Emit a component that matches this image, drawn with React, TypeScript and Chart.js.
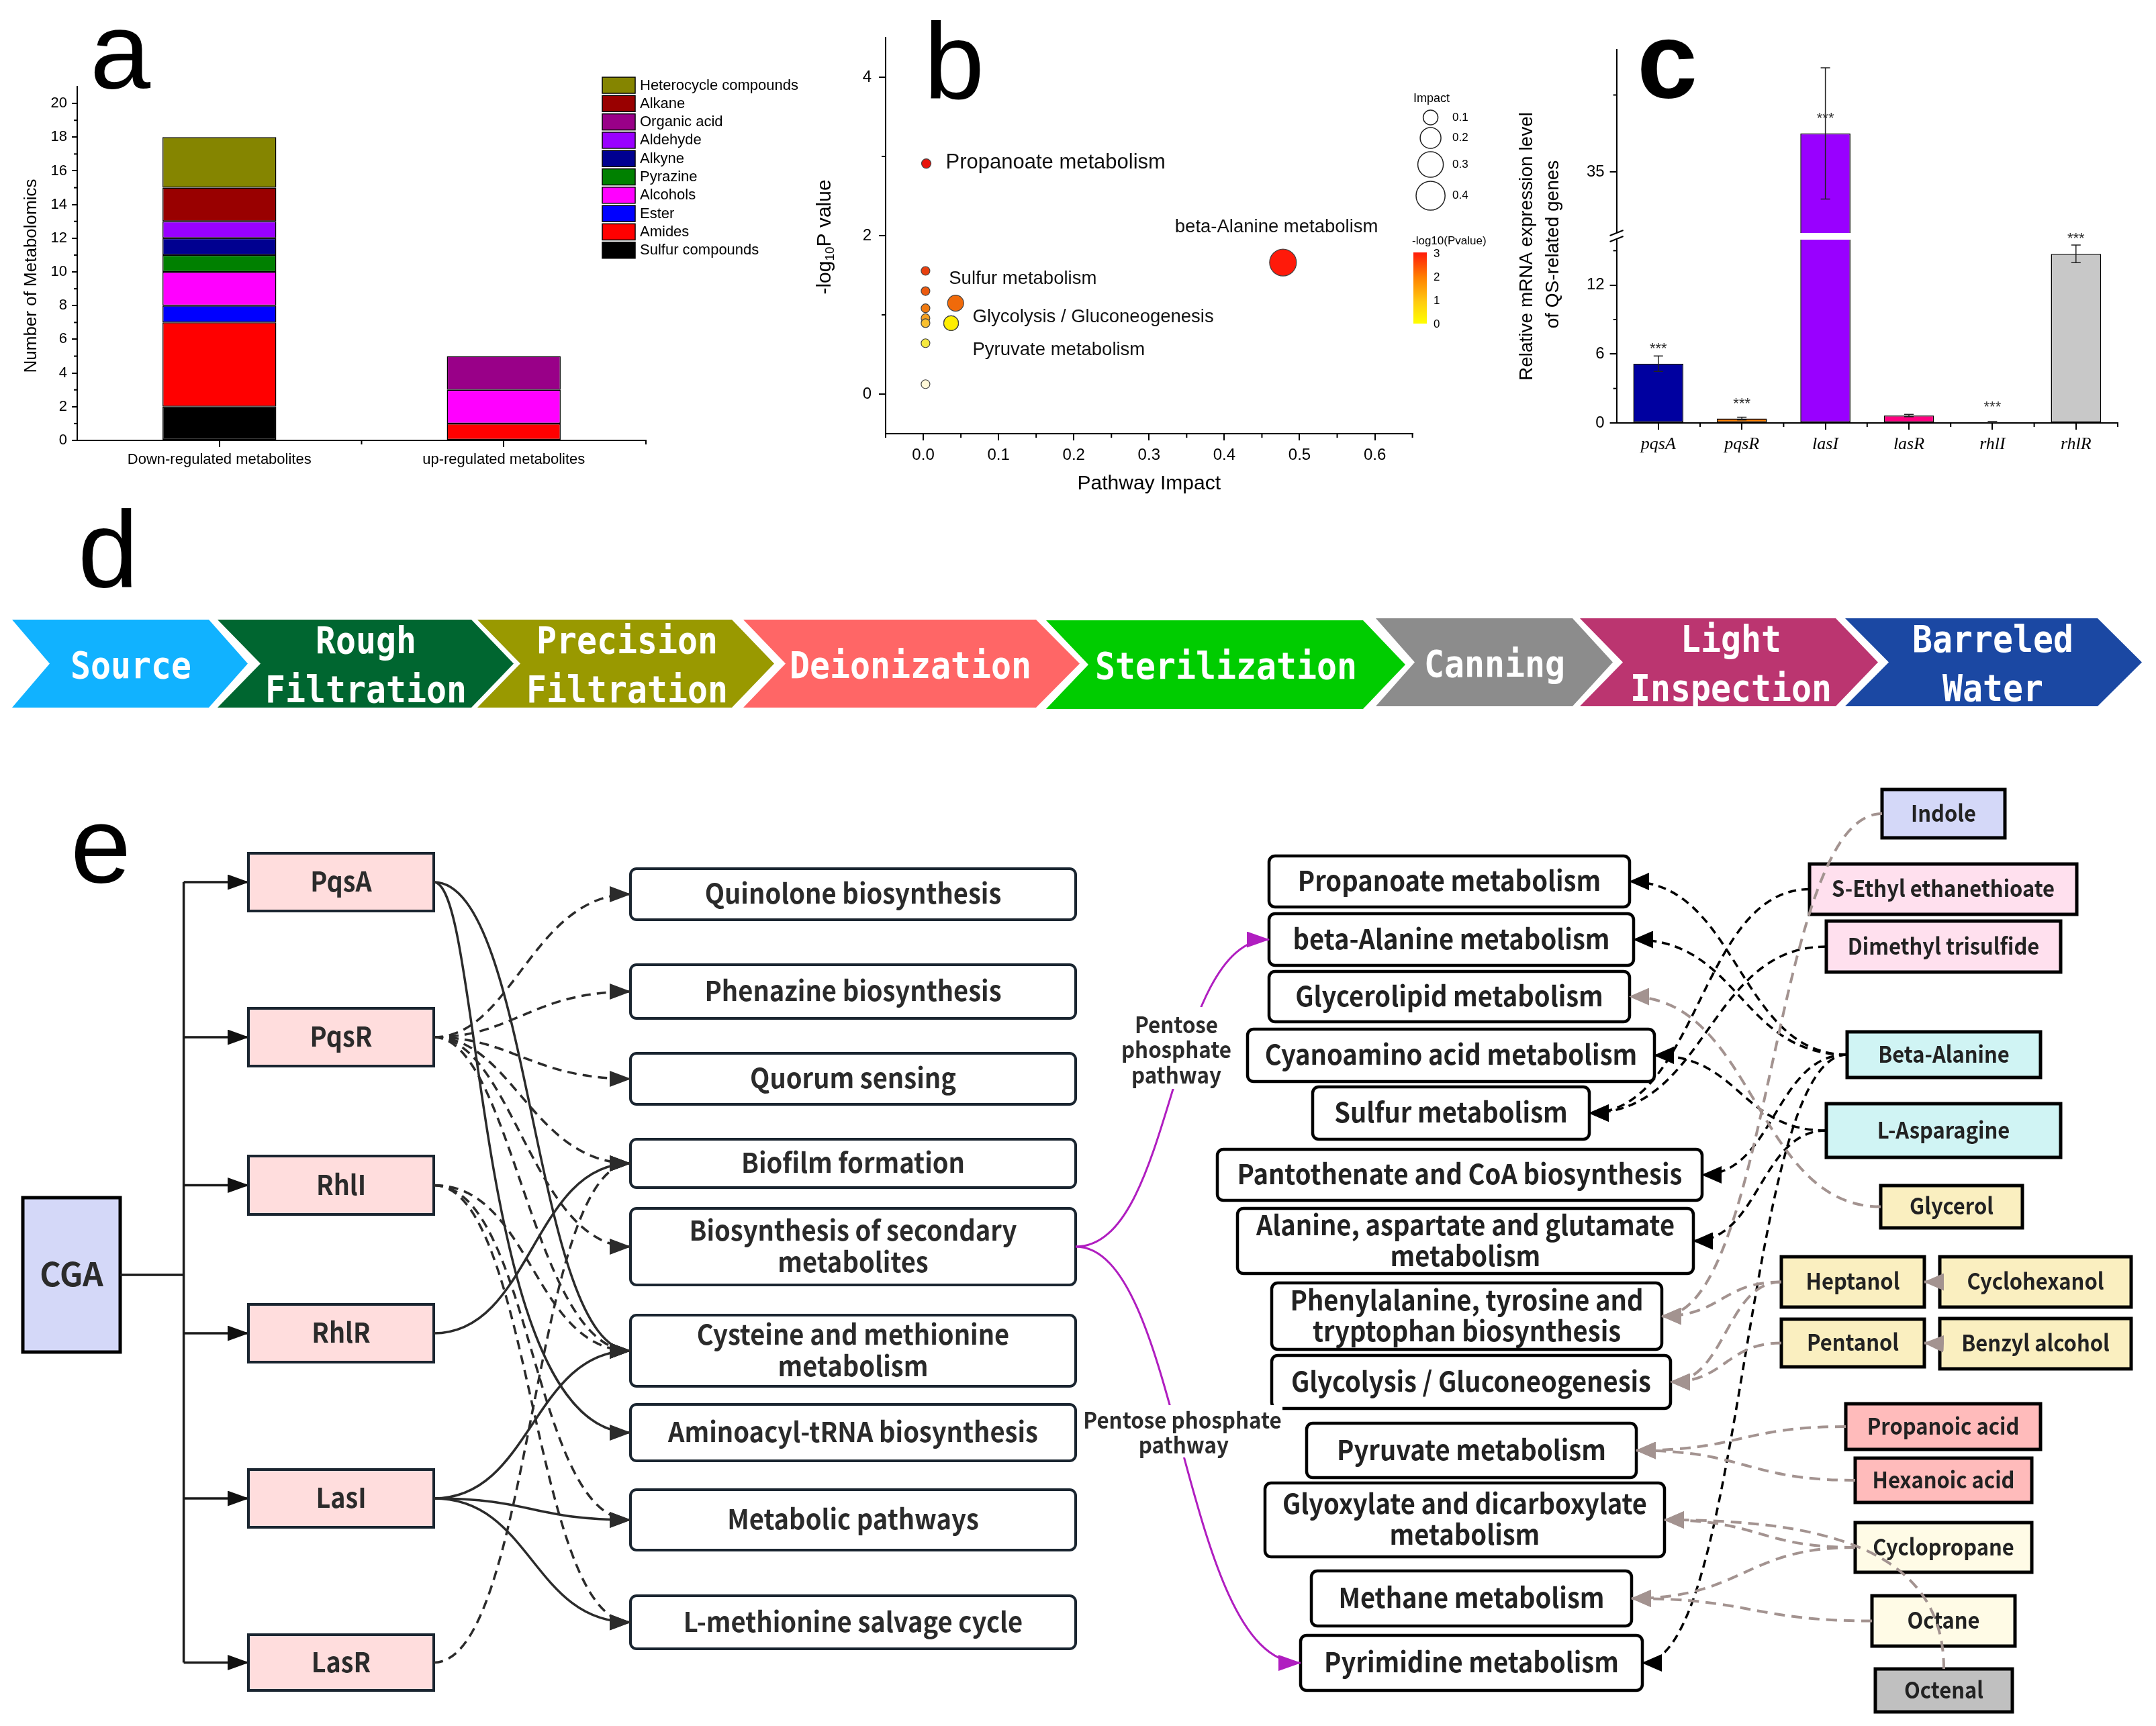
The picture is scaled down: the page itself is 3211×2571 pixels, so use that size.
import React, { useEffect, useRef } from 'react';
import { Chart, registerables } from 'chart.js';

Chart.register(...registerables);

const SANS = '"Liberation Sans", Arial, Helvetica, sans-serif';
const SERIF = '"Liberation Serif", "Times New Roman", serif';
const CJK = '"Noto Sans CJK SC", "Noto Sans", sans-serif';
const MONO = '"DejaVu Sans Mono", "Liberation Mono", monospace';

Chart.defaults.font.family = SANS;
Chart.defaults.color = '#000';

/* ---------------- panel a : stacked bars ---------------- */
const A_GROUPS = ['Down-regulated metabolites', 'up-regulated metabolites'];
const A_CLASSES = ['Sulfur compounds', 'Amides', 'Ester', 'Alcohols', 'Pyrazine', 'Alkyne', 'Aldehyde', 'Organic acid', 'Alkane', 'Heterocycle compounds'];
const A_DOWN = [2, 5, 1, 2, 1, 1, 1, 0, 2, 3];
const A_UP = [0, 1, 0, 2, 0, 0, 0, 2, 0, 0];
const A_COLORS = ['#000000', '#ff0000', '#0000ff', '#ff00ff', '#008000', '#000090', '#9900ff', '#990088', '#990000', '#858500'];
const A_Y_MAJOR = [0, 2, 4, 6, 8, 10, 12, 14, 16, 18, 20];
const A_Y_MINOR = [1, 3, 5, 7, 9, 11, 13, 15, 17, 19];
const A_X_BOUNDS = [0.5, 1.5];

/* ---------------- panel b : pathway bubbles ---------------- */
const B_PATHWAYS = ['Propanoate metabolism', 'beta-Alanine metabolism', 'Sulfur metabolism', 'Glycolysis / Gluconeogenesis', 'Pyruvate metabolism', '', '', '', '', '', '', ''];
const B_IMPACT = [0.004, 0.478, 0.043, 0.037, 0.037, 0.003, 0.003, 0.003, 0.003, 0.003, 0.003, 0.003];
const B_LOGP = [2.91, 1.66, 1.148, 0.895, 0.895, 1.555, 1.3, 1.083, 0.958, 0.895, 0.642, 0.125];
const B_RADIUS = [7, 20, 12, 11, 11, 6.5, 6.5, 6.5, 6.5, 6.5, 6.5, 6.5];
const B_COLORS = ['#e8140c', '#ff1a0a', '#f06a0a', '#ffee00', '#ffee00', '#e8400f', '#ec5a10', '#f07a10', '#f5a020', '#f8c030', '#f5e840', '#fff8d8'];
const B_LABEL_DX = [29, -161, -10, 32, 32, 0, 0, 0, 0, 0, 0, 0];
const B_LABEL_DY = [-1, -53, -36, -9, 40, 0, 0, 0, 0, 0, 0, 0];
const B_LABEL_SIZE = [31, 27.5, 27.5, 27.5, 27.5, 0, 0, 0, 0, 0, 0, 0];
const B_X_MAJOR = [0, 0.1, 0.2, 0.3, 0.4, 0.5, 0.6];
const B_X_MINOR = [-0.05, 0.05, 0.15, 0.25, 0.35, 0.45, 0.55, 0.65];
const B_Y_MAJOR = [0, 2, 4];
const B_Y_MINOR = [1, 3];
const B_SIZE_LEGEND = ['0.1', '0.2', '0.3', '0.4'];
const B_SIZE_LEGEND_R = [11, 15.5, 19, 21.6];
const B_COLORBAR_TICKS = ['3', '2', '1', '0'];

/* ---------------- panel c : qPCR bars with broken axis ---------------- */
const C_GENES = ['pqsA', 'pqsR', 'lasI', 'lasR', 'rhlI', 'rhlR'];
const C_EXPR = [5.16, 0.38, 37.5, 0.64, 0.08, 14.72];
const C_ERR = [0.67, 0.12, 4.27, 0.1, 0.03, 0.77];
const C_SIG = ['***', '***', '***', '', '***', '***'];
const C_COLORS = ['#0000a0', '#ff8000', '#9900ff', '#ff0080', '#c8c8c8', '#c8c8c8'];
const C_LOW_MAX = 16.25;
const C_HIGH_MIN = 30.8;
const C_HIGH_MAX = 42.95;
const C_LOW_MAJOR = [0, 6, 12];
const C_LOW_MINOR = [3, 9, 15];
const C_HIGH_MAJOR = [35];
const C_HIGH_MINOR = [40];
const C_X_BOUNDS = [0.5, 1.5, 2.5, 3.5, 4.5, 5.5];

/* ---------------- panel d : process chevrons ---------------- */
const D_STEPS = [['Source'], ['Rough', 'Filtration'], ['Precision', 'Filtration'], ['Deionization'], ['Sterilization'], ['Canning'], ['Light', 'Inspection'], ['Barreled', 'Water']];
const D_COLORS = ['#11b2ff', '#006630', '#999900', '#ff6666', '#00cc00', '#8c8c8c', '#bb3570', '#1b48a3'];
// geometry: left, notch, rightTop, tip, top, bottom, text centre x
const D_GEOM = [
  [18, 74, 311, 369, 923, 1054, 195],
  [324, 388, 702, 765, 923, 1054, 545],
  [711, 775, 1090, 1153, 923, 1054, 934],
  [1107, 1170, 1543, 1608, 923, 1054, 1356],
  [1558, 1621, 2030, 2093, 924, 1056, 1826],
  [2049, 2107, 2342, 2402, 921, 1052, 2226],
  [2353, 2417, 2734, 2797, 921, 1052, 2578],
  [2748, 2813, 3124, 3190, 921, 1052, 2968],
];

/* ---------------- panel e : network ---------------- */
const E_GENES = ['PqsA', 'PqsR', 'RhlI', 'RhlR', 'LasI', 'LasR'];
const E_GENE_BOX = [[370, 1271, 276, 86], [370, 1502, 276, 86], [370, 1722, 276, 87], [370, 1943, 276, 86], [370, 2189, 276, 86], [370, 2435, 276, 83]];
const E_MID = ['Quinolone biosynthesis', 'Phenazine biosynthesis', 'Quorum sensing', 'Biofilm formation', 'Biosynthesis of secondary|metabolites', 'Cysteine and methionine|metabolism', 'Aminoacyl-tRNA biosynthesis', 'Metabolic pathways', 'L-methionine salvage cycle'];
const E_MID_BOX = [[939, 1294, 663, 76], [939, 1437, 663, 80], [939, 1569, 663, 76], [939, 1697, 663, 72], [939, 1800, 663, 114], [939, 1959, 663, 106], [939, 2092, 663, 84], [939, 2219, 663, 90], [939, 2377, 663, 79]];
const E_PATH = ['Propanoate metabolism', 'beta-Alanine metabolism', 'Glycerolipid metabolism', 'Cyanoamino acid metabolism', 'Sulfur metabolism', 'Pantothenate and CoA biosynthesis', 'Alanine, aspartate and glutamate|metabolism', 'Phenylalanine, tyrosine and|tryptophan biosynthesis', 'Glycolysis / Gluconeogenesis', 'Pyruvate metabolism', 'Glyoxylate and dicarboxylate|metabolism', 'Methane metabolism', 'Pyrimidine metabolism'];
const E_PATH_BOX = [[1890, 1275, 537, 76], [1890, 1361, 543, 77], [1890, 1447, 537, 75], [1858, 1533, 606, 78], [1955, 1619, 412, 78], [1813, 1712, 722, 76], [1843, 1800, 679, 97], [1894, 1911, 581, 99], [1894, 2019, 594, 79], [1946, 2120, 491, 81], [1884, 2209, 595, 110], [1953, 2340, 477, 82], [1937, 2436, 509, 82]];
const E_CPD = ['Indole', 'S-Ethyl ethanethioate', 'Dimethyl trisulfide', 'Beta-Alanine', 'L-Asparagine', 'Glycerol', 'Heptanol', 'Cyclohexanol', 'Pentanol', 'Benzyl alcohol', 'Propanoic acid', 'Hexanoic acid', 'Cyclopropane', 'Octane', 'Octenal'];
const E_CPD_BOX = [[2803, 1176, 183, 72], [2695, 1287, 398, 75], [2720, 1372, 349, 76], [2751, 1537, 288, 68], [2720, 1644, 349, 80], [2801, 1766, 211, 63], [2653, 1872, 213, 75], [2889, 1872, 285, 75], [2653, 1965, 213, 71], [2889, 1964, 285, 75], [2749, 2091, 290, 68], [2763, 2172, 263, 66], [2763, 2268, 263, 74], [2788, 2377, 213, 75], [2793, 2486, 204, 64]];
const E_CPD_FILL = ['#d4d8f8', '#ffe0ee', '#ffe0ee', '#d0f4f4', '#d0f4f4', '#faefc0', '#faefc0', '#faefc0', '#faefc0', '#faefc0', '#ffbbbb', '#ffbbbb', '#fffbe6', '#fffbe6', '#c0c0c0'];
// gene -> pathway links: [gene, mid, dashed, k1, k2]
const E_LEFT_LINKS = [
  [0, 5, 0, 0.5, 0.5], [0, 6, 0, 0.25, 0.8], [3, 3, 0, 0.5, 0.5], [4, 5, 0, 0.5, 0.5], [4, 7, 0, 0.5, 0.5], [4, 8, 0, 0.5, 0.5],
  [1, 0, 1, 0.4, 0.5], [1, 1, 1, 0.4, 0.5], [1, 2, 1, 0.4, 0.5], [1, 3, 1, 0.4, 0.5], [1, 4, 1, 0.4, 0.5], [1, 5, 1, 0.4, 0.5],
  [2, 5, 1, 0.5, 0.5], [2, 7, 1, 0.5, 0.5], [2, 8, 1, 0.5, 0.5], [5, 3, 1, 0.5, 0.5],
];
// compound -> pathway links: [compound, pathway, grey]
const E_RIGHT_LINKS = [
  [1, 4, 0], [2, 4, 0], [3, 0, 0], [3, 1, 0], [3, 5, 0], [3, 12, 0], [4, 3, 0], [4, 6, 0],
  [0, 7, 1], [5, 2, 1], [6, 7, 1], [6, 8, 1], [8, 8, 1], [10, 9, 1], [11, 9, 1], [12, 10, 1], [12, 11, 1], [13, 11, 1],
];
// compound -> compound links (arrow into the left neighbour)
const E_CPD_LINKS = [[7, 6], [9, 8]];

/* ---------------- helpers ---------------- */
function axisStyle(tickLen: number) {
  return {
    grid: { drawOnChartArea: false, drawTicks: true, tickLength: tickLen, color: '#000', lineWidth: 2, offset: false },
    border: { display: true, color: '#000', width: 2 },
  };
}

function minorTicks(id: string, specs: any[]) {
  return {
    id,
    afterDraw(chart: any) {
      const ctx = chart.ctx;
      ctx.save();
      ctx.strokeStyle = '#000';
      ctx.lineWidth = 2;
      for (const s of specs) {
        const sc = chart.scales[s.scale];
        for (const v of s.values) {
          const p = sc.getPixelForValue(v);
          ctx.beginPath();
          if (sc.isHorizontal()) {
            ctx.moveTo(p, sc.top);
            ctx.lineTo(p, sc.top + s.len);
          } else {
            ctx.moveTo(sc.right, p);
            ctx.lineTo(sc.right - s.len, p);
          }
          ctx.stroke();
        }
      }
      ctx.restore();
    },
  };
}

function txt(ctx: any, text: string, x: number, y: number, font: string, align = 'center', rot = 0, color = '#000') {
  ctx.save();
  ctx.translate(x, y);
  if (rot) ctx.rotate(rot);
  ctx.font = font;
  ctx.fillStyle = color;
  ctx.textAlign = align;
  ctx.textBaseline = 'middle';
  ctx.fillText(text, 0, 0);
  ctx.restore();
}

/* ---------------- chart configs ---------------- */
function makeA(): any {
  const decor = {
    id: 'aDecor',
    afterDraw(chart: any) {
      const ctx = chart.ctx;
      const order = A_CLASSES.map((_, i) => i).reverse();
      order.forEach((ci, row) => {
        const y0 = 115 + row * 27.3;
        ctx.fillStyle = A_COLORS[ci];
        ctx.fillRect(897, y0, 49, 24);
        ctx.strokeStyle = '#000';
        ctx.lineWidth = 1.5;
        ctx.strokeRect(897, y0, 49, 24);
        txt(ctx, A_CLASSES[ci], 953, y0 + 12.5, `22px ${SANS}`, 'left');
      });
      txt(ctx, 'Number of Metabolomics', 47, 411, `26px ${SANS}`, 'center', -Math.PI / 2);
    },
  };
  return {
    type: 'bar',
    data: {
      labels: A_GROUPS,
      datasets: A_CLASSES.map((c, i) => ({
        label: c,
        data: [A_DOWN[i], A_UP[i]],
        backgroundColor: A_COLORS[i],
        borderColor: '#000',
        borderWidth: 1.5,
        borderSkipped: false,
        barPercentage: 0.4,
        categoryPercentage: 1,
      })),
    },
    options: {
      responsive: false,
      animation: false,
      devicePixelRatio: 1,
      layout: { padding: { left: 0, top: 129, right: 233, bottom: 0 } },
      plugins: { legend: { display: false }, tooltip: { enabled: false } },
      scales: {
        x: {
          stacked: true,
          ...axisStyle(10),
          ticks: { font: { family: SANS, size: 22 }, color: '#000', padding: 6, maxRotation: 0, autoSkip: false },
          afterFit: (s: any) => { s.height = 64; },
        },
        y: {
          stacked: true,
          min: 0,
          max: 21,
          ...axisStyle(8),
          ticks: { font: { family: SANS, size: 22 }, color: '#000', padding: 7 },
          afterBuildTicks: (s: any) => { s.ticks = A_Y_MAJOR.map((v) => ({ value: v })); },
          afterFit: (s: any) => { s.width = 115; },
        },
      },
    },
    plugins: [
      minorTicks('aMinor', [
        { scale: 'y', values: A_Y_MINOR, len: 5 },
        { scale: 'x', values: A_X_BOUNDS, len: 6 },
      ]),
      decor,
    ],
  };
}

function makeB(): any {
  const decor = {
    id: 'bDecor',
    afterDraw(chart: any) {
      const ctx = chart.ctx;
      const xs = chart.scales.x;
      const ys = chart.scales.y;
      B_PATHWAYS.forEach((name, i) => {
        if (!name) return;
        const px = xs.getPixelForValue(B_IMPACT[i]) + B_LABEL_DX[i];
        const py = ys.getPixelForValue(B_LOGP[i]) + B_LABEL_DY[i];
        txt(ctx, name, px, py, `${B_LABEL_SIZE[i]}px ${SANS}`, 'left', 0, '#111');
      });
      // y title with subscript
      ctx.save();
      ctx.translate(34, 353);
      ctx.rotate(-Math.PI / 2);
      ctx.fillStyle = '#000';
      ctx.textBaseline = 'middle';
      ctx.textAlign = 'left';
      const big = `30px ${SANS}`;
      const small = `19px ${SANS}`;
      ctx.font = big;
      const w1 = ctx.measureText('-log').width;
      const w3 = ctx.measureText('P value').width;
      ctx.font = small;
      const w2 = ctx.measureText('10').width;
      let x0 = -(w1 + w2 + w3) / 2;
      ctx.font = big;
      ctx.fillText('-log', x0, 0);
      x0 += w1;
      ctx.font = small;
      ctx.fillText('10', x0, 8);
      x0 += w2;
      ctx.font = big;
      ctx.fillText('P value', x0, 0);
      ctx.restore();
      // x title
      txt(ctx, 'Pathway Impact', (chart.chartArea.left + chart.chartArea.right) / 2, 721, `30px ${SANS}`);
      // size legend
      txt(ctx, 'Impact', 910, 147, `18px ${SANS}`, 'left');
      const ly = [175, 205.5, 245, 291.5];
      B_SIZE_LEGEND.forEach((lab, i) => {
        ctx.beginPath();
        ctx.arc(935.6, ly[i], B_SIZE_LEGEND_R[i], 0, Math.PI * 2);
        ctx.strokeStyle = '#222';
        ctx.lineWidth = 1.5;
        ctx.stroke();
        txt(ctx, lab, 968, ly[i], `17px ${SANS}`, 'left');
      });
      // colour bar
      txt(ctx, '-log10(Pvalue)', 908, 359, `17px ${SANS}`, 'left');
      const g = ctx.createLinearGradient(0, 376, 0, 482);
      g.addColorStop(0, '#ff1a0a');
      g.addColorStop(0.35, '#ff8000');
      g.addColorStop(0.7, '#ffcc10');
      g.addColorStop(1, '#ffff00');
      ctx.fillStyle = g;
      ctx.fillRect(910, 376, 20, 106);
      B_COLORBAR_TICKS.forEach((lab, i) => {
        txt(ctx, lab, 940, 378 + i * 35, `17px ${SANS}`, 'left');
      });
    },
  };
  return {
    type: 'bubble',
    data: {
      datasets: [{
        data: B_IMPACT.map((x, i) => ({ x, y: B_LOGP[i], r: B_RADIUS[i] })),
        backgroundColor: B_COLORS,
        borderColor: '#444',
        borderWidth: 1.2,
      }],
    },
    options: {
      responsive: false,
      animation: false,
      devicePixelRatio: 1,
      layout: { padding: { left: 0, top: 56, right: 121.4, bottom: 0 } },
      plugins: { legend: { display: false }, tooltip: { enabled: false } },
      scales: {
        x: {
          type: 'linear',
          min: -0.05,
          max: 0.65,
          ...axisStyle(10),
          ticks: { font: { family: SANS, size: 24 }, color: '#000', padding: 8, callback: (v: any) => Number(v).toFixed(1) },
          afterBuildTicks: (s: any) => { s.ticks = B_X_MAJOR.map((v) => ({ value: v })); },
          afterFit: (s: any) => { s.height = 114; },
        },
        y: {
          type: 'linear',
          min: -0.5,
          max: 4.5,
          ...axisStyle(10),
          ticks: { font: { family: SANS, size: 24 }, color: '#000', padding: 11, callback: (v: any) => String(v) },
          afterBuildTicks: (s: any) => { s.ticks = B_Y_MAJOR.map((v) => ({ value: v })); },
          afterFit: (s: any) => { s.width = 124; },
        },
      },
    },
    plugins: [
      minorTicks('bMinor', [
        { scale: 'y', values: B_Y_MINOR, len: 6 },
        { scale: 'x', values: B_X_MINOR, len: 6 },
      ]),
      decor,
    ],
  };
}

function makeC(): any {
  const decor = {
    id: 'cDecor',
    afterDraw(chart: any) {
      const ctx = chart.ctx;
      const xs = chart.scales.x;
      const lo = chart.scales.yLow;
      const hi = chart.scales.yHigh;
      const area = chart.chartArea;
      const slot = (area.right - area.left) / C_GENES.length;
      const halfBar = (slot * 0.6) / 2;
      ctx.save();
      // axis break (white gap through the axis and the broken bars)
      const b = hi.bottom;
      ctx.fillStyle = '#fff';
      ctx.fillRect(area.left - 14, b - 5, 18, 10);
      C_EXPR.forEach((v, i) => {
        if (v > C_LOW_MAX) {
          const px = xs.getPixelForValue(i);
          ctx.fillRect(px - halfBar - 3, b - 5, halfBar * 2 + 6, 10);
        }
      });
      ctx.strokeStyle = '#000';
      ctx.lineWidth = 2;
      ctx.beginPath();
      ctx.moveTo(area.left - 10, b - 1); ctx.lineTo(area.left + 10, b - 9);
      ctx.moveTo(area.left - 10, b + 8); ctx.lineTo(area.left + 10, b);
      ctx.stroke();
      // error bars and significance marks
      C_EXPR.forEach((v, i) => {
        const sc = v > C_LOW_MAX ? hi : lo;
        const px = xs.getPixelForValue(i);
        const yt = sc.getPixelForValue(v + C_ERR[i]);
        const yb = sc.getPixelForValue(Math.max(0, v - C_ERR[i]));
        ctx.strokeStyle = '#222';
        ctx.lineWidth = 1.5;
        ctx.beginPath();
        ctx.moveTo(px, yt); ctx.lineTo(px, yb);
        ctx.moveTo(px - 7, yt); ctx.lineTo(px + 7, yt);
        ctx.moveTo(px - 7, yb); ctx.lineTo(px + 7, yb);
        ctx.stroke();
        if (C_SIG[i]) txt(ctx, C_SIG[i], px, sc.getPixelForValue(v) - 22, `22px ${SANS}`, 'center', 0, '#333');
      });
      ctx.restore();
      txt(ctx, 'Relative mRNA expression level', 64, 367, `28px ${SANS}`, 'center', -Math.PI / 2);
      txt(ctx, 'of QS-related genes', 103, 364, `28px ${SANS}`, 'center', -Math.PI / 2);
    },
  };
  const common = {
    backgroundColor: C_COLORS,
    borderColor: '#000',
    borderWidth: 1.5,
    borderSkipped: false,
    barPercentage: 0.6,
    categoryPercentage: 1,
    grouped: false,
  };
  return {
    type: 'bar',
    data: {
      labels: C_GENES,
      datasets: [
        { ...common, yAxisID: 'yLow', data: C_EXPR.map((v) => Math.min(v, C_LOW_MAX)) },
        { ...common, yAxisID: 'yHigh', data: C_EXPR.map((v) => (v > C_LOW_MAX ? v : null)) },
      ],
    },
    options: {
      responsive: false,
      animation: false,
      devicePixelRatio: 1,
      layout: { padding: { left: 0, top: 74, right: 57, bottom: 0 } },
      plugins: { legend: { display: false }, tooltip: { enabled: false } },
      scales: {
        x: {
          ...axisStyle(10),
          ticks: { font: { family: SERIF, size: 26, style: 'italic' }, color: '#000', padding: 7, maxRotation: 0, autoSkip: false },
          afterFit: (s: any) => { s.height = 90; },
        },
        yLow: {
          type: 'linear',
          position: 'left',
          stack: 'c',
          stackWeight: 1,
          weight: 0,
          min: 0,
          max: C_LOW_MAX,
          ...axisStyle(10),
          ticks: { font: { family: SANS, size: 24 }, color: '#000', padding: 8 },
          afterBuildTicks: (s: any) => { s.ticks = C_LOW_MAJOR.map((v) => ({ value: v })); },
          afterFit: (s: any) => { s.width = 197.6; },
        },
        yHigh: {
          type: 'linear',
          position: 'left',
          stack: 'c',
          stackWeight: 1,
          weight: 1,
          min: C_HIGH_MIN,
          max: C_HIGH_MAX,
          ...axisStyle(10),
          ticks: { font: { family: SANS, size: 24 }, color: '#000', padding: 8 },
          afterBuildTicks: (s: any) => { s.ticks = C_HIGH_MAJOR.map((v) => ({ value: v })); },
          afterFit: (s: any) => { s.width = 197.6; },
        },
      },
    },
    plugins: [
      minorTicks('cMinor', [
        { scale: 'yLow', values: C_LOW_MINOR, len: 5 },
        { scale: 'yHigh', values: C_HIGH_MINOR, len: 5 },
        { scale: 'x', values: C_X_BOUNDS, len: 6 },
      ]),
      decor,
    ],
  };
}

function ChartCanvas({ left, top, width, height, make }: any) {
  const ref = useRef<HTMLCanvasElement>(null);
  useEffect(() => {
    const chart = new Chart(ref.current as HTMLCanvasElement, make());
    return () => chart.destroy();
  }, []);
  return (
    <canvas
      ref={ref}
      width={width}
      height={height}
      style={{ position: 'absolute', left, top, width, height }}
    />
  );
}

/* ---------------- diagram (panels d, e) ---------------- */
function curve(x1: number, y1: number, x2: number, y2: number, k1 = 0.5, k2 = 0.5) {
  const dx = x2 - x1;
  return `M${x1},${y1} C${x1 + dx * k1},${y1} ${x2 - dx * k2},${y2} ${x2},${y2}`;
}

function BoxEl({ b, label, fill, stroke, sw, rx, fs, lh, color, sx }: any) {
  const [x, y, w, h] = b;
  const lines = label.split('|');
  const cy = y + h / 2;
  const cx = x + w / 2;
  return (
    <g>
      <rect x={x} y={y} width={w} height={h} rx={rx} ry={rx} fill={fill} stroke={stroke} strokeWidth={sw} />
      <text fontFamily={CJK} fontWeight={700} fontSize={fs} fill={color} textAnchor="middle" transform={`matrix(${sx},0,0,1,${cx * (1 - sx)},0)`}>
        {lines.map((ln: string, i: number) => (
          <tspan key={i} x={cx} y={cy + (i - (lines.length - 1) / 2) * lh + fs * 0.35}>{ln}</tspan>
        ))}
      </text>
    </g>
  );
}

function Marker({ id, len, wid, color }: any) {
  return (
    <marker id={id} viewBox={`0 0 ${len} ${wid}`} refX={len - 1} refY={wid / 2} markerWidth={len} markerHeight={wid} markerUnits="userSpaceOnUse" orient="auto">
      <path d={`M0,0 L${len},${wid / 2} L0,${wid} Z`} fill={color} />
    </marker>
  );
}

function Diagram() {
  const gR = (i: number) => [E_GENE_BOX[i][0] + E_GENE_BOX[i][2], E_GENE_BOX[i][1] + E_GENE_BOX[i][3] / 2];
  const mL = (i: number) => [E_MID_BOX[i][0], E_MID_BOX[i][1] + E_MID_BOX[i][3] / 2];
  const pR = (i: number) => [E_PATH_BOX[i][0] + E_PATH_BOX[i][2], E_PATH_BOX[i][1] + E_PATH_BOX[i][3] / 2];
  const pL = (i: number) => [E_PATH_BOX[i][0], E_PATH_BOX[i][1] + E_PATH_BOX[i][3] / 2];
  const cL = (i: number) => [E_CPD_BOX[i][0], E_CPD_BOX[i][1] + E_CPD_BOX[i][3] / 2];
  const cR = (i: number) => [E_CPD_BOX[i][0] + E_CPD_BOX[i][2], E_CPD_BOX[i][1] + E_CPD_BOX[i][3] / 2];
  const trunkX = 273.6;
  const geneYs = E_GENE_BOX.map((b) => b[1] + b[3] / 2);
  const cga = [34, 1784, 145, 230];
  const cgaY = cga[1] + cga[3] / 2;
  const bios = [E_MID_BOX[4][0] + E_MID_BOX[4][2], E_MID_BOX[4][1] + E_MID_BOX[4][3] / 2];
  const betaL = pL(1);
  const pyrL = pL(12);
  const octTop = [E_CPD_BOX[14][0] + E_CPD_BOX[14][2] / 2, E_CPD_BOX[14][1]];
  const glyR = pR(10);
  const sq = (cx: number, s: number) => `matrix(${s},0,0,1,${cx * (1 - s)},0)`;
  return (
    <svg width={3211} height={2571} style={{ position: 'absolute', left: 0, top: 0 }} xmlns="http://www.w3.org/2000/svg">
      <defs>
        <Marker id="mkBlack" len={32} wid={23} color="#111" />
        <Marker id="mkDark" len={32} wid={24} color="#2b2b2b" />
        <Marker id="mkRight" len={30} wid={26} color="#000" />
        <Marker id="mkGray" len={30} wid={26} color="#a39390" />
        <Marker id="mkMag" len={34} wid={24} color="#b01ec0" />
      </defs>

      {/* panel letters */}
      <text x={134} y={131} fontFamily={SANS} fontSize={162} fill="#000">a</text>
      <text x={1376} y={147} fontFamily={SANS} fontSize={162} fill="#000">b</text>
      <text x={2438} y={145} fontFamily={SANS} fontSize={162} fontWeight={700} fill="#000">c</text>
      <text x={116} y={874} fontFamily={SANS} fontSize={162} fill="#000">d</text>
      <text x={105} y={1314} fontFamily={SANS} fontSize={162} fill="#000">e</text>

      {/* panel d */}
      {D_STEPS.map((lines, i) => {
        const [l, n, r, t, top, bot, cx] = D_GEOM[i];
        const mid = (top + bot) / 2;
        const ys = lines.length === 1 ? [mid + 21] : [mid - 16, mid + 57];
        return (
          <g key={i}>
            <polygon points={`${l},${top} ${r},${top} ${t},${mid} ${r},${bot} ${l},${bot} ${n},${mid}`} fill={D_COLORS[i]} />
            {lines.map((ln, j) => (
              <text key={j} x={cx} y={ys[j]} fontFamily={MONO} fontWeight={700} fontSize={55} fill="#fff" textAnchor="middle" textLength={ln.length * 30} lengthAdjust="spacingAndGlyphs">{ln}</text>
            ))}
          </g>
        );
      })}

      {/* panel e : CGA trunk */}
      <rect x={cga[0]} y={cga[1]} width={cga[2]} height={cga[3]} fill="#d4d8f8" stroke="#000" strokeWidth={5} />
      <text x={cga[0] + cga[2] / 2} y={cgaY + 17} fontFamily={CJK} fontWeight={700} fontSize={48} fill="#2b2b2b" textAnchor="middle">CGA</text>
      <path d={`M${cga[0] + cga[2]},${cgaY} L${trunkX},${cgaY} M${trunkX},${geneYs[0]} L${trunkX},${geneYs[5]}`} stroke="#1a1a1a" strokeWidth={3.5} fill="none" />
      {geneYs.map((y, i) => (
        <path key={i} d={`M${trunkX},${y} L${E_GENE_BOX[i][0]},${y}`} stroke="#1a1a1a" strokeWidth={3.5} fill="none" markerEnd="url(#mkBlack)" />
      ))}

      {/* nodes */}
      {E_GENES.map((g, i) => (
        <BoxEl key={g} b={E_GENE_BOX[i]} label={g} fill="#ffdddd" stroke="#1a2530" sw={4} rx={0} fs={41} lh={46} color="#2b2b2b" sx={0.92} />
      ))}
      {E_MID.map((g, i) => (
        <BoxEl key={g} b={E_MID_BOX[i]} label={g} fill="#fff" stroke="#1a2530" sw={4} rx={9} fs={41} lh={47} color="#2b2b2b" sx={0.93} />
      ))}
      {E_PATH.map((g, i) => (
        <BoxEl key={g} b={E_PATH_BOX[i]} label={g} fill="#fff" stroke="#000" sw={4.5} rx={9} fs={41} lh={46} color="#222" sx={0.93} />
      ))}
      {E_CPD.map((g, i) => (
        <BoxEl key={g} b={E_CPD_BOX[i]} label={g} fill={E_CPD_FILL[i]} stroke="#000" sw={5} rx={0} fs={34} lh={40} color="#222" sx={0.91} />
      ))}

      {/* gene -> pathway links */}
      {E_LEFT_LINKS.map(([g, m, dashed, k1, k2], i) => {
        const [x1, y1] = gR(g);
        const [x2, y2] = mL(m);
        return (
          <path key={i} d={curve(x1, y1, x2, y2, k1, k2)} fill="none" stroke="#2b2b2b" strokeWidth={3.5} strokeDasharray={dashed ? '14 9' : undefined} markerEnd="url(#mkDark)" />
        );
      })}

      {/* compound -> pathway links */}
      {E_RIGHT_LINKS.map(([c, p, grey], i) => {
        const [x1, y1] = cL(c);
        const [x2, y2] = pR(p);
        return (
          <path key={i} d={curve(x1, y1, x2, y2)} fill="none" stroke={grey ? '#a39390' : '#000'} strokeWidth={grey ? 4 : 3.5} strokeDasharray={grey ? '16 10' : '12 8'} markerEnd={grey ? 'url(#mkGray)' : 'url(#mkRight)'} />
        );
      })}
      {E_CPD_LINKS.map(([a, b], i) => {
        const [x1, y1] = cL(a);
        const [x2, y2] = cR(b);
        return <path key={i} d={`M${x1},${y1} L${x2},${y2}`} fill="none" stroke="#a39390" strokeWidth={4} markerEnd="url(#mkGray)" />;
      })}
      <path d={`M${octTop[0]},${octTop[1]} C${octTop[0]},${octTop[1] - 186} ${glyR[0] + 221},${glyR[1]} ${glyR[0]},${glyR[1]}`} fill="none" stroke="#a39390" strokeWidth={4} strokeDasharray="16 10" markerEnd="url(#mkGray)" />

      {/* pentose phosphate pathway links */}
      <path d={`M${bios[0]},${bios[1]} C${bios[0] + 148},${bios[1]} ${betaL[0] - 150},${betaL[1]} ${betaL[0]},${betaL[1]}`} fill="none" stroke="#b01ec0" strokeWidth={3} markerEnd="url(#mkMag)" />
      <path d={`M${bios[0]},${bios[1]} C${bios[0] + 158},${bios[1]} ${pyrL[0] - 177},${pyrL[1]} ${pyrL[0]},${pyrL[1]}`} fill="none" stroke="#b01ec0" strokeWidth={3} markerEnd="url(#mkMag)" />
      <rect x={1672} y={1500} width={162} height={122} fill="#fff" />
      <text fontFamily={CJK} fontWeight={700} fontSize={33} fill="#2b2b2b" textAnchor="middle" transform={sq(1752, 0.95)}>
        <tspan x={1752} y={1539}>Pentose</tspan>
        <tspan x={1752} y={1576}>phosphate</tspan>
        <tspan x={1752} y={1614}>pathway</tspan>
      </text>
      <rect x={1612} y={2093} width={298} height={78} fill="#fff" />
      <text fontFamily={CJK} fontWeight={700} fontSize={33} fill="#2b2b2b" textAnchor="middle" transform={sq(1761, 0.95)}>
        <tspan x={1761} y={2128}>Pentose phosphate</tspan>
        <tspan x={1763} y={2165}>pathway</tspan>
      </text>
    </svg>
  );
}

export default function App() {
  return (
    <div style={{ position: 'absolute', left: 0, top: 0, width: 3211, height: 2571, background: '#fff', overflow: 'hidden' }}>
      <ChartCanvas left={0} top={0} width={1195} height={720} make={makeA} />
      <ChartCanvas left={1195} top={0} width={1030} height={760} make={makeB} />
      <ChartCanvas left={2210} top={0} width={1001} height={720} make={makeC} />
      <Diagram />
    </div>
  );
}
